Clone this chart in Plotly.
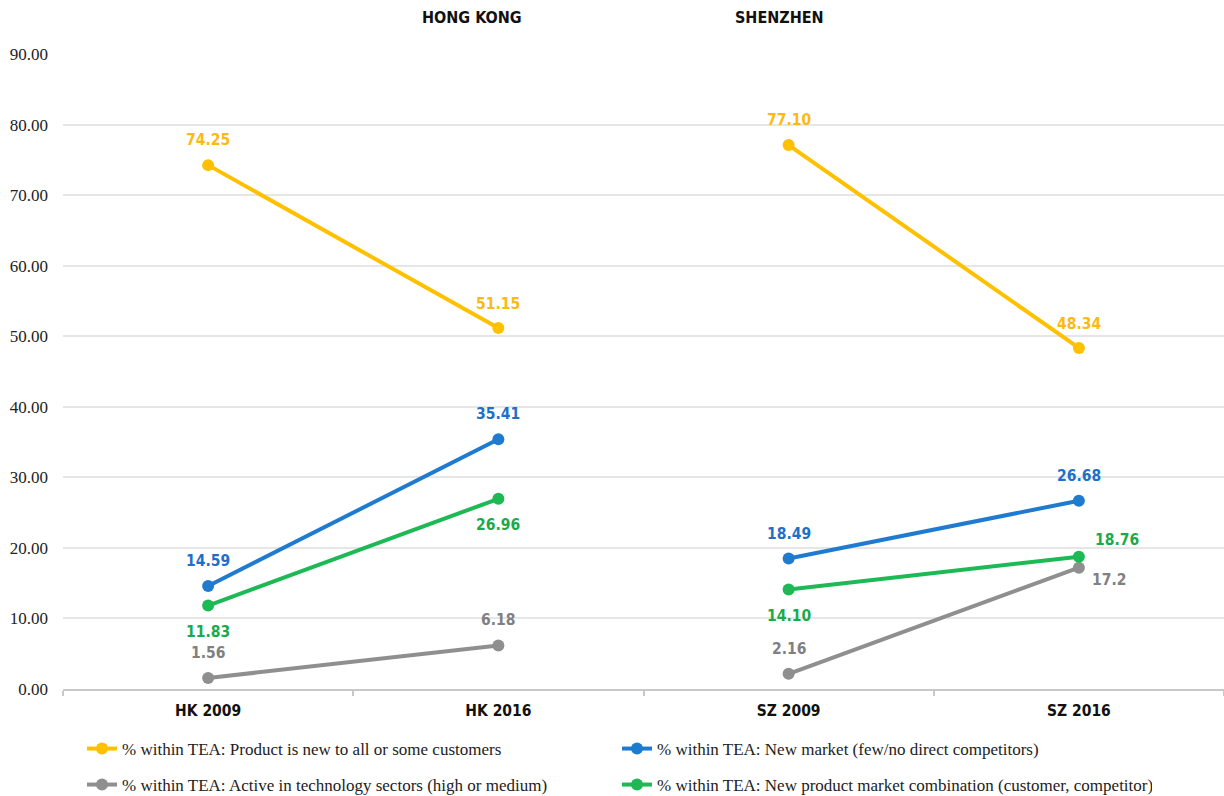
import plotly.graph_objects as go

# Categories along the x axis (two cities, two survey years each)
categories = ["HK 2009", "HK 2016", "SZ 2009", "SZ 2016"]
city_titles = ["HONG KONG", "SHENZHEN"]

# Series values (% within TEA)
product_new = [74.25, 51.15, 77.10, 48.34]
new_market = [14.59, 35.41, 18.49, 26.68]
tech_sectors = [1.56, 6.18, 2.16, 17.2]
new_combo = [11.83, 26.96, 14.10, 18.76]

# Printed value labels
product_new_labels = ["74.25", "51.15", "77.10", "48.34"]
new_market_labels = ["14.59", "35.41", "18.49", "26.68"]
tech_sectors_labels = ["1.56", "6.18", "2.16", "17.2"]
new_combo_labels = ["11.83", "26.96", "14.10", "18.76"]

y_ticks = [0, 10, 20, 30, 40, 50, 60, 70, 80, 90]

W, H = 1224, 796
M_L, M_R, M_T, M_B = 63, 0, 54, 107

LABEL_FONT = "Liberation Sans Narrow, DejaVu Sans Condensed, Arial Narrow, sans-serif"
SERIF = "Liberation Serif, Times New Roman, serif"

series = [
    dict(name="% within TEA: Product is new to all or some customers",
         y=product_new, labels=product_new_labels,
         line="#FFC000", text="#FDB913", legend="legend",
         shifts=[(0, 25), (0, 24), (0, 25), (0, 24)]),
    dict(name="% within TEA: New market (few/no direct competitors)",
         y=new_market, labels=new_market_labels,
         line="#1F7BD0", text="#1F6FC8", legend="legend",
         shifts=[(0, 25), (0, 25), (0, 25), (0, 25)]),
    dict(name="% within TEA: Active in technology sectors (high or medium)",
         y=tech_sectors, labels=tech_sectors_labels,
         line="#8F8F8F", text="#808080", legend="legend2",
         shifts=[(0, 25), (0, 25), (0, 25), (30, -12)]),
    dict(name="% within TEA: New product market combination (customer, competitor)",
         y=new_combo, labels=new_combo_labels,
         line="#1DB954", text="#1BAA4A", legend="legend2",
         shifts=[(0, -26), (0, -26), (0, -26), (38, 17)]),
]

fig = go.Figure()
annotations = []

for s in series:
    # Hong Kong and Shenzhen pairs are drawn as separate segments
    for i, part in enumerate([(0, 2), (2, 4)]):
        a, b = part
        fig.add_trace(go.Scatter(
            x=categories[a:b], y=s["y"][a:b],
            mode="lines+markers",
            name=s["name"],
            legendgroup=s["name"],
            showlegend=(i == 0),
            legend=s["legend"],
            line=dict(color=s["line"], width=4),
            marker=dict(color=s["line"], size=12),
            hoverinfo="x+y",
        ))
    for cat, val, lab, (dx, dy) in zip(categories, s["y"], s["labels"], s["shifts"]):
        annotations.append(dict(
            x=cat, y=val, xref="x", yref="y", text=lab, showarrow=False,
            xshift=dx, yshift=dy, yanchor="middle",
            font=dict(family=LABEL_FONT, size=15.5, color=s["text"], weight="bold"),
        ))

# City headings above the plot
plot_w = W - M_L - M_R
plot_h = H - M_T - M_B
for title, px in zip(city_titles, [472, 779]):
    annotations.append(dict(
        x=(px - M_L) / plot_w, y=1 + (M_T - 17) / plot_h,
        xref="paper", yref="paper", text=title, showarrow=False,
        xanchor="center", yanchor="middle",
        font=dict(family=LABEL_FONT, size=16, color="#111111", weight="bold"),
    ))

legend_common = dict(
    orientation="h", xref="container", yref="container",
    xanchor="left", yanchor="middle",
    entrywidth=490, entrywidthmode="pixels",
    font=dict(family=SERIF, size=17, color="#222222"),
    bgcolor="rgba(0,0,0,0)", itemclick=False, itemdoubleclick=False,
)

fig.update_layout(
    width=W, height=H,
    margin=dict(l=M_L, r=M_R, t=M_T, b=M_B, pad=0),
    paper_bgcolor="white", plot_bgcolor="white",
    showlegend=True,
    legend=dict(x=82 / W, y=1 - 749 / H, **legend_common),
    legend2=dict(x=82 / W, y=1 - 785 / H, **legend_common),
    annotations=annotations,
    xaxis=dict(
        type="category", categoryorder="array", categoryarray=categories,
        range=[-0.5, 3.5], tickson="boundaries",
        ticks="outside", ticklen=5, tickcolor="#C8C8C8", tickwidth=1.5,
        showline=True, linecolor="#C8C8C8", linewidth=1.5,
        showgrid=False, zeroline=False,
        tickfont=dict(family=LABEL_FONT, size=15.5, color="#111111", weight="bold"),
        ticklabelstandoff=7,
        fixedrange=True,
    ),
    yaxis=dict(
        range=[0, 90], tickvals=y_ticks, tickformat=".2f",
        showgrid=True, gridcolor="#E6E6E6", gridwidth=1.5,
        zeroline=False, showline=False, ticks="",
        tickfont=dict(family=SERIF, size=17, color="#222222"),
        ticklabelstandoff=14,
        fixedrange=True,
    ),
)

fig.write_html("out.html")
